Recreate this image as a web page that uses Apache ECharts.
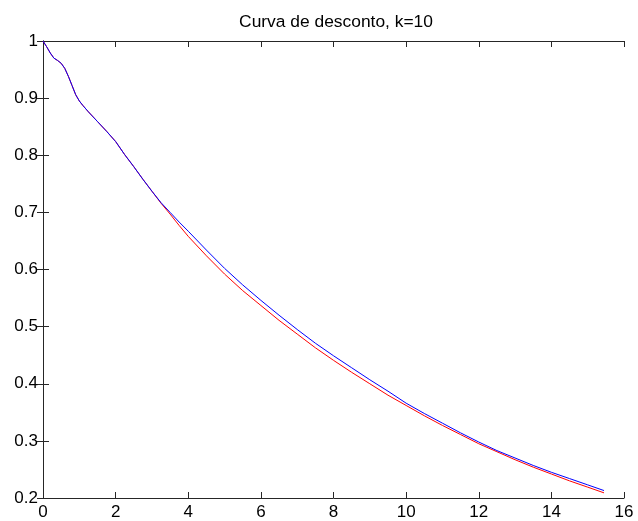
<!DOCTYPE html>
<html>
<head>
<meta charset="utf-8">
<script src="https://cdn.jsdelivr.net/npm/echarts@6/dist/echarts.min.js"></script>
<style>
  html, body { margin: 0; padding: 0; background: #fff; }
  #chart { width: 638px; height: 521px; }
</style>
</head>
<body>
<div id="chart"></div>
<script>
// tempos (eixo x) e as duas curvas de desconto
const tempos = [0, 0.1, 0.2, 0.3, 0.4, 0.5, 0.6, 0.7, 0.8, 0.9, 1.0, 1.1, 1.25, 1.5, 1.75, 2.0,
  2.25, 2.5, 2.75, 3.0, 3.25, 3.5, 3.75, 4.0, 4.5, 5.0, 5.5, 6.0, 6.5, 7.0, 7.5, 8.0,
  8.5, 9.0, 9.5, 10.0, 10.5, 11.0, 11.5, 12.0, 12.5, 13.0, 13.5, 14.0, 14.5, 15.0, 15.45]

const curvaVermelha = [1.0, 0.990, 0.979, 0.970, 0.966, 0.961, 0.952, 0.938, 0.922, 0.906, 0.895, 0.887, 0.876, 0.859, 0.842, 0.824,
  0.801, 0.780, 0.758, 0.737, 0.716, 0.697, 0.677, 0.658, 0.624, 0.592, 0.563, 0.537, 0.511, 0.487, 0.463, 0.441,
  0.420, 0.400, 0.380, 0.362, 0.344, 0.327, 0.311, 0.295, 0.281, 0.267, 0.254, 0.242, 0.230, 0.219, 0.209]

const curvaAzul = [1.0, 0.990, 0.979, 0.970, 0.966, 0.961, 0.952, 0.938, 0.922, 0.906, 0.895, 0.887, 0.876, 0.859, 0.842, 0.824,
  0.801, 0.780, 0.758, 0.737, 0.717, 0.700, 0.683, 0.667, 0.634, 0.602, 0.573, 0.546, 0.520, 0.495, 0.471, 0.449,
  0.428, 0.407, 0.387, 0.366, 0.348, 0.331, 0.314, 0.298, 0.283, 0.270, 0.257, 0.245, 0.234, 0.223, 0.213]

const xTicks = [0, 2, 4, 6, 8, 10, 12, 14, 16]
const yTicks = [0.2, 0.3, 0.4, 0.5, 0.6, 0.7, 0.8, 0.9, 1]

const chart = echarts.init(document.getElementById('chart'))

const fonte = { fontFamily: 'Liberation Sans', fontSize: 17, color: '#000' }
const eixo = { lineStyle: { color: '#262626', width: 1 } }
const ticks = { show: true, inside: true, length: 6, lineStyle: { color: '#262626', width: 1 } }

const option = {
  backgroundColor: '#fff',
  animation: false,
  title: {
    text: 'Curva de desconto, k=10',
    left: 331,
    textAlign: 'center',
    top: 9,
    textStyle: { fontFamily: 'Liberation Sans', fontSize: 17.4, fontWeight: 'normal', color: '#000' }
  },
  grid: { left: 43, top: 41, right: 14, bottom: 23 },
  xAxis: [
    {
      type: 'value',
      min: xTicks[0],
      max: xTicks[xTicks.length - 1],
      interval: 2,
      axisLine: eixo,
      axisTick: ticks,
      splitLine: { show: false },
      axisLabel: { ...fonte, margin: 6 }
    },
    {
      type: 'value',
      position: 'top',
      min: xTicks[0],
      max: xTicks[xTicks.length - 1],
      interval: 2,
      axisLine: eixo,
      axisTick: ticks,
      splitLine: { show: false },
      axisLabel: { show: false }
    }
  ],
  yAxis: [
    {
      type: 'value',
      min: yTicks[0],
      max: yTicks[yTicks.length - 1],
      interval: 0.1,
      axisLine: { show: true, ...eixo },
      axisTick: ticks,
      splitLine: { show: false },
      axisLabel: { ...fonte, margin: 5, formatter: v => String(Math.round(v * 10) / 10) }
    },
    {
      type: 'value',
      position: 'right',
      min: yTicks[0],
      max: yTicks[yTicks.length - 1],
      interval: 0.1,
      axisLine: { show: true, ...eixo },
      axisTick: ticks,
      splitLine: { show: false },
      axisLabel: { show: false }
    }
  ],
  series: [
    {
      name: 'vermelha',
      type: 'line',
      data: tempos.map((t, i) => [t, curvaVermelha[i]]),
      showSymbol: false,
      lineStyle: { color: '#ff0000', width: 1 },
      itemStyle: { color: '#ff0000' }
    },
    {
      name: 'azul',
      type: 'line',
      data: tempos.map((t, i) => [t, curvaAzul[i]]),
      showSymbol: false,
      lineStyle: { color: '#0000ff', width: 1 },
      itemStyle: { color: '#0000ff' }
    }
  ]
}

chart.setOption(option)
</script>
</body>
</html>
